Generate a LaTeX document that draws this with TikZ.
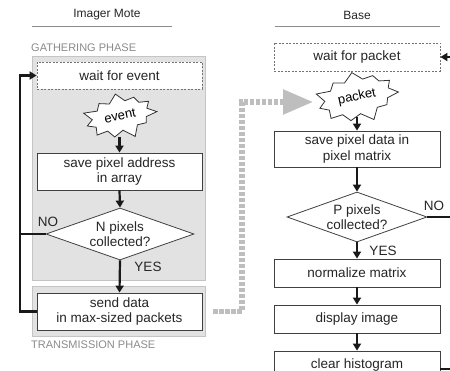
\documentclass[tikz,border=0pt]{standalone}
\usepackage{fontspec}
\setmainfont{Liberation Sans}
\usetikzlibrary{arrows.meta,shapes.geometric,shapes.symbols}
\definecolor{regionfill}{HTML}{E2E2E2}
\definecolor{regionline}{HTML}{C4C4C4}
\definecolor{phasetext}{HTML}{8A8A8A}
\definecolor{graydash}{HTML}{BEBEBE}
\begin{document}
\begin{tikzpicture}[x=1pt,y=-1pt,
  txt/.style={font=\fontsize{13.5}{15.5}\selectfont, text=black!85},
  box/.style={txt, draw=black!75, line width=0.8pt, fill=white, minimum width=165pt, align=center, inner sep=0pt},
  waitbox/.style={box, draw=black!55, dash pattern=on 2pt off 1.5pt},
  decision/.style={txt, diamond, draw=black!75, line width=0.8pt, fill=white, aspect=2.85, inner sep=0pt, minimum width=148pt, minimum height=52pt, align=center},
  burst/.style={starburst, draw=black!80, fill=white, line width=0.8pt, starburst points=11, starburst point height=11pt, inner xsep=4pt, inner ysep=6pt, font=\fontsize{13}{14}\selectfont, rotate=12},
  flow/.style={line width=2.2pt, black!90, -{Triangle[length=7pt,width=8pt]}},
  plain/.style={line width=2.2pt, black!90},
  region/.style={draw=regionline, fill=regionfill, line width=0.8pt},
  phase/.style={font=\fontsize{11}{13}\selectfont, text=phasetext, anchor=west, inner sep=0pt},
  title/.style={font=\fontsize{12}{13}\selectfont, text=black!85},
  rule/.style={draw=black!45, line width=0.8pt},
  lab/.style={txt, inner sep=0pt},
  gd/.style={draw=graydash, line width=5.5pt, dash pattern=on 4.5pt off 1.5pt, -{Triangle[length=30pt,width=24pt]}}
]
\useasboundingbox (0,0) rectangle (450,371);

% ---- Imager Mote ----
\node[title] (t1) at (107,15) {Imager Mote};
\draw[rule] (32,26) -- (172,26);
\node[phase] (gph) at (31,48) {GATHERING PHASE};
\draw[region] (32,56) rectangle (205,280);
\draw[region] (32,286) rectangle (205,336);
\node[phase] (tph) at (31,345) {TRANSMISSION PHASE};

\node[waitbox, minimum height=27pt] (wait1) at (119.5,75.5) {wait for event};
\node[burst] (event) at (120,116) {event};
\node[box, minimum height=37pt] (save1) at (119.5,171.5) {save pixel address\\in array};
\node[decision] (dia1) at (120,234) {N pixels\\collected?};
\node[box, minimum height=37pt] (send1) at (119.5,311.5) {send data\\in max-sized packets};
\node[lab] (no1) at (48,222) {NO};
\node[lab] (yes1) at (148,267) {YES};

\coordinate (lx) at (20,0);
\draw[flow] (save1.north |- 0,137) -- (save1.north);
\draw[flow] (save1.south) -- (dia1.north);
\draw[flow] (dia1.south) -- (send1.north);
\draw[plain] (dia1.west) -- (dia1.west -| lx);
\draw[flow] (send1.west) -- (send1.west -| lx) |- (wait1.west);

% ---- Base ----
\node[title] (t2) at (357,15) {Base};
\draw[rule] (275,26) -- (440,26);
\node[waitbox, minimum height=28pt, minimum width=166pt] (wait2) at (357,57) {wait for packet};
\node[burst] (packet) at (357,97) {packet};
\node[box, minimum height=36pt, minimum width=166pt] (save2) at (357,149) {save pixel data in\\pixel matrix};
\node[decision, minimum width=140pt, minimum height=50pt] (dia2) at (357,217) {P pixels\\collected?};
\node[box, minimum height=28pt, minimum width=166pt] (norm) at (357,273) {normalize matrix};
\node[box, minimum height=28pt, minimum width=166pt] (disp) at (357,319) {display image};
\node[box, minimum height=28pt, minimum width=166pt] (clear) at (357,365) {clear histogram};
\node[lab] (no2) at (434,206) {NO};
\node[lab] (yes2) at (383,251) {YES};

\coordinate (rx) at (452,0);
\draw[flow] (wait2.east -| rx) -- (wait2.east);
\draw[flow] (save2.north |- 0,117) -- (save2.north);
\draw[flow] (save2.south) -- (dia2.north);
\draw[flow] (dia2.south) -- (norm.north);
\draw[flow] (norm.south) -- (disp.north);
\draw[flow] (disp.south) -- (clear.north);
\draw[plain] (dia2.east) -- (dia2.east -| rx);
\draw[plain] ([yshift=-4pt]clear.east) -- ([yshift=-4pt]clear.east -| rx);

% ---- transfer ----
\coordinate (gcorner) at (242,102);
\coordinate (gend) at (313,102);
\draw[gd] ([xshift=11pt]send1.east) -| (gcorner) -- (gend);
\end{tikzpicture}
\end{document}
